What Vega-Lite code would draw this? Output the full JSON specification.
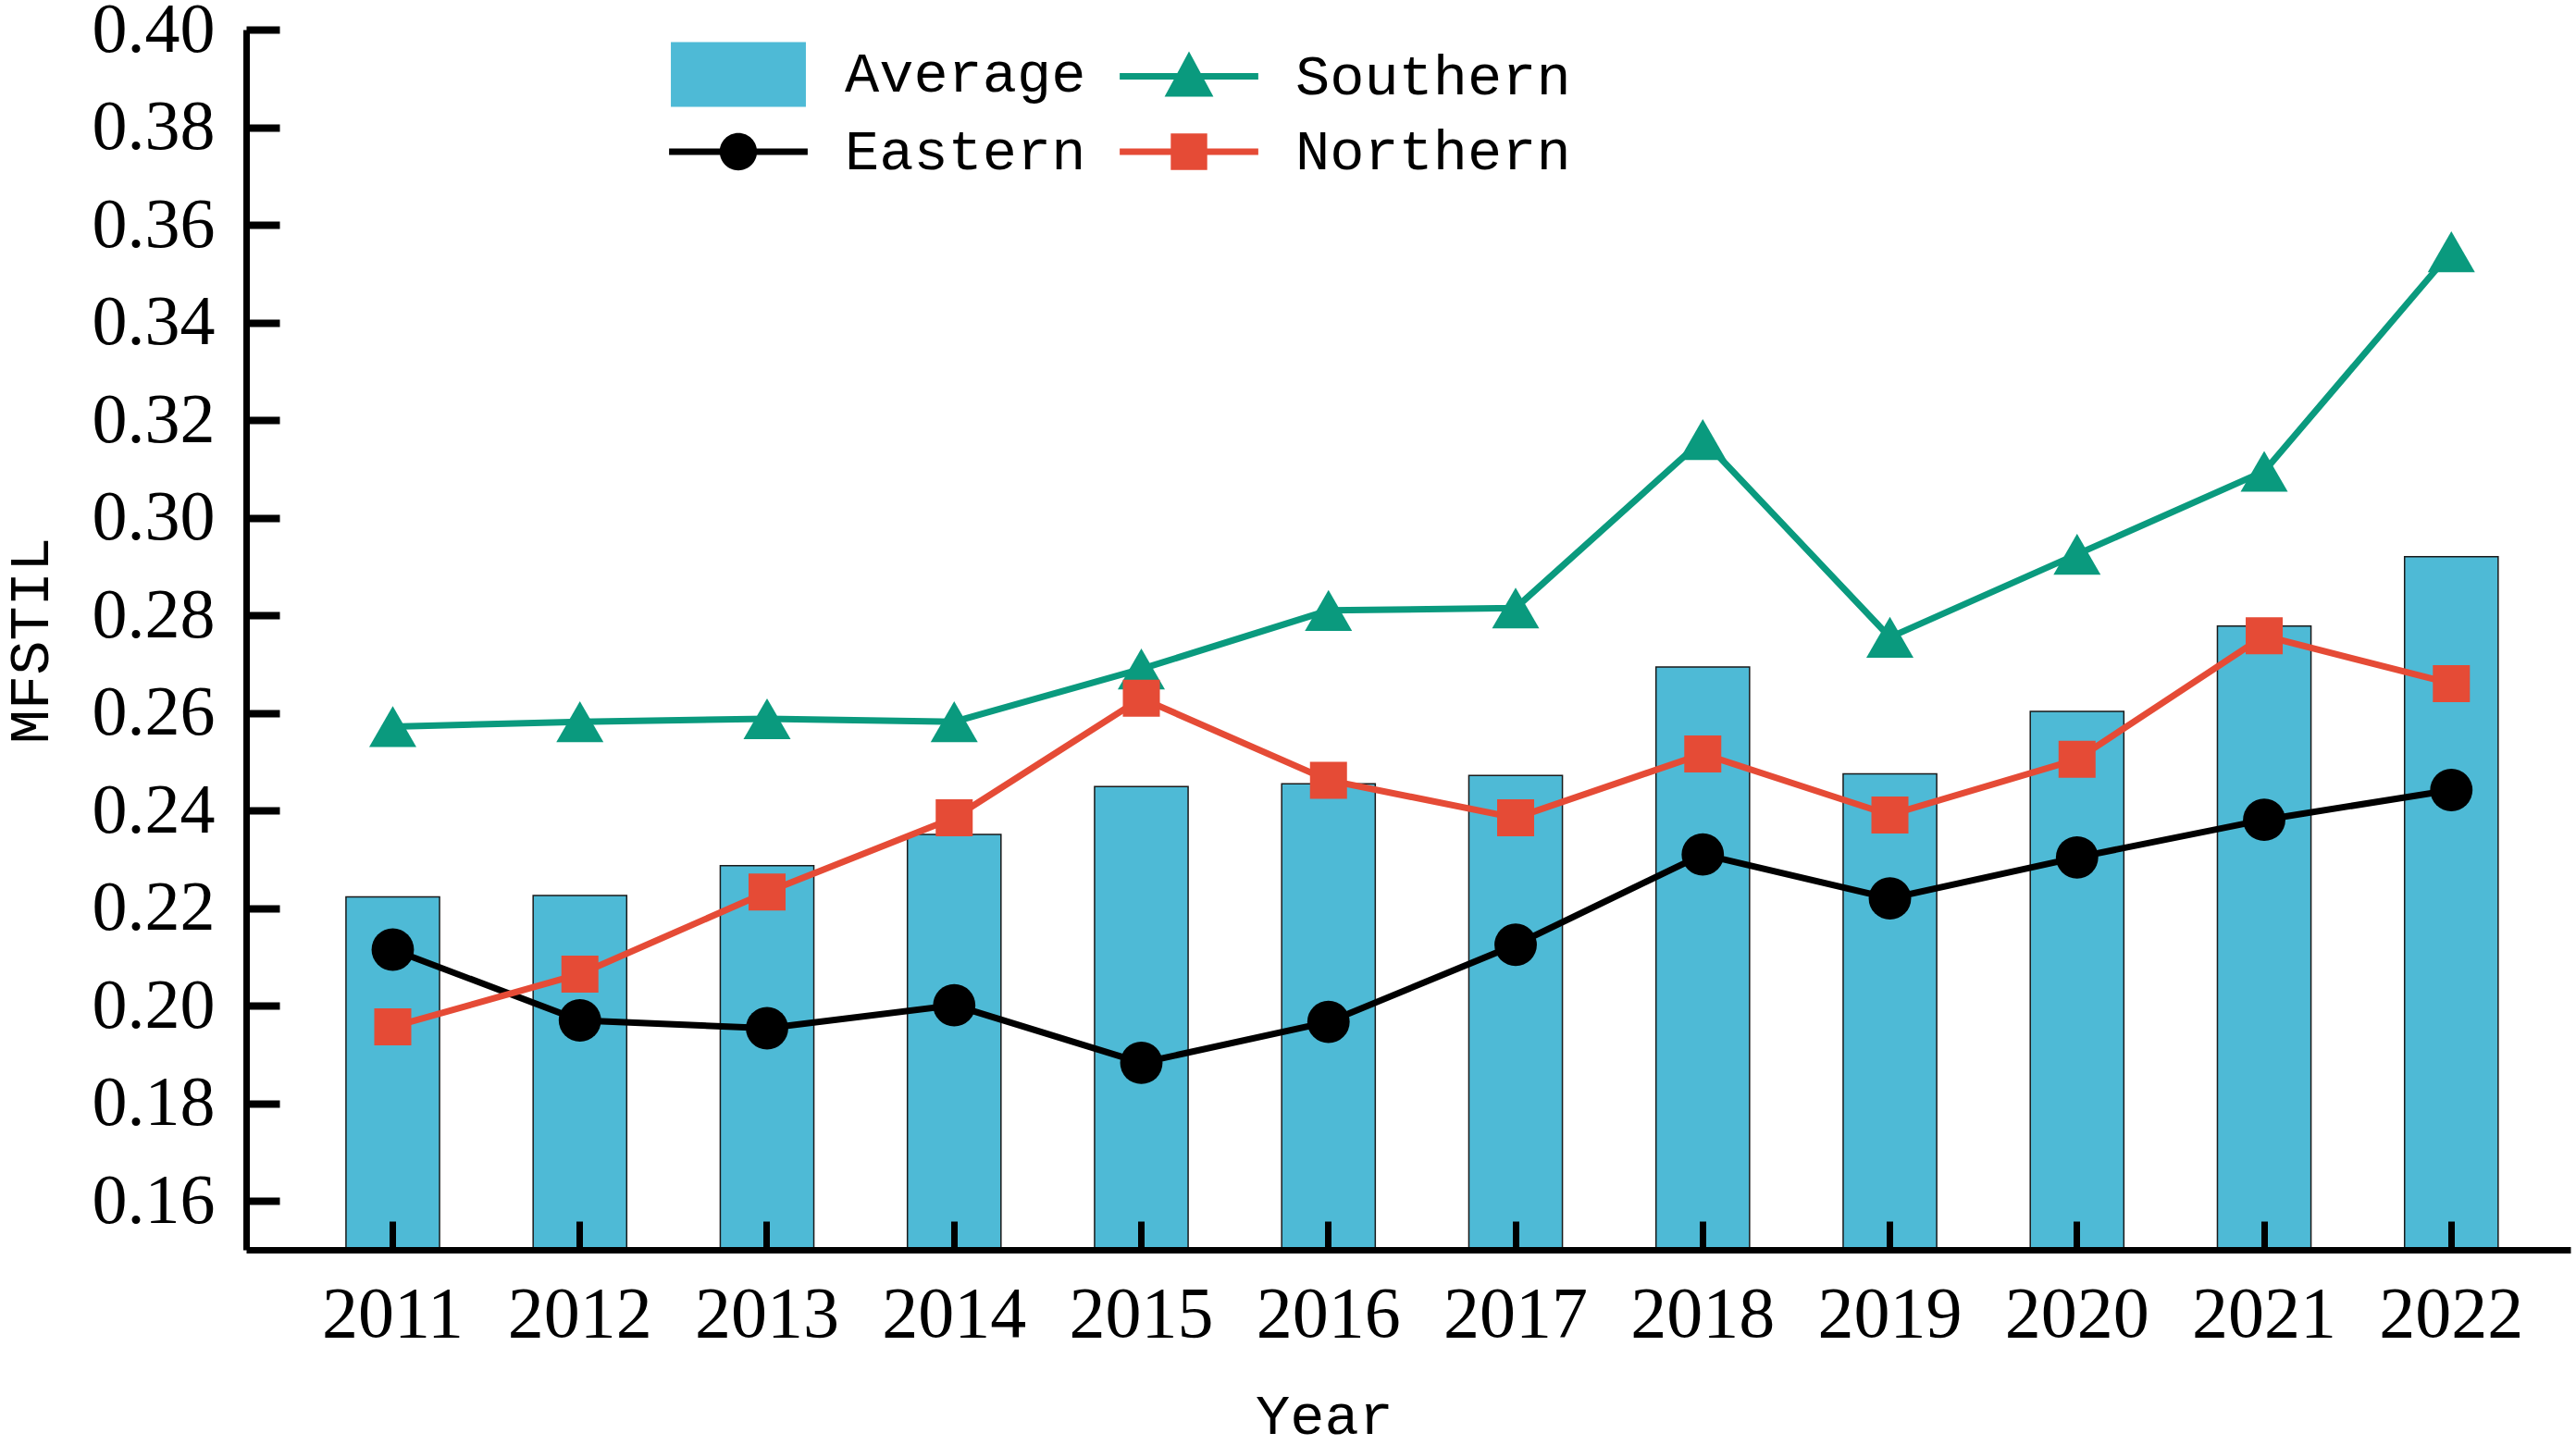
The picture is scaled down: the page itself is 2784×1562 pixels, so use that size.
{
  "$schema": "https://vega.github.io/schema/vega-lite/v6.json",
  "autosize": "none",
  "padding": {"left": 266, "top": 32, "right": 6, "bottom": 211},
  "width": 2512,
  "height": 1319,
  "background": "#ffffff",
  "config": {
    "view": {"stroke": null},
    "axis": {"domainColor": "#000000", "tickColor": "#000000", "labelColor": "#000000", "titleColor": "#000000", "gridColor": "#000000", "gridOpacity": 1}
  },
  "data": {
    "values": [
      {"year": "2011", "region": "Average", "value": 0.2223},
      {"year": "2012", "region": "Average", "value": 0.2226},
      {"year": "2013", "region": "Average", "value": 0.2287},
      {"year": "2014", "region": "Average", "value": 0.2351},
      {"year": "2015", "region": "Average", "value": 0.2449},
      {"year": "2016", "region": "Average", "value": 0.2455},
      {"year": "2017", "region": "Average", "value": 0.2472},
      {"year": "2018", "region": "Average", "value": 0.2694},
      {"year": "2019", "region": "Average", "value": 0.2475},
      {"year": "2020", "region": "Average", "value": 0.2603},
      {"year": "2021", "region": "Average", "value": 0.2778},
      {"year": "2022", "region": "Average", "value": 0.2920},
      {"year": "2011", "region": "Southern", "value": 0.2572},
      {"year": "2012", "region": "Southern", "value": 0.2582},
      {"year": "2013", "region": "Southern", "value": 0.2588},
      {"year": "2014", "region": "Southern", "value": 0.2582},
      {"year": "2015", "region": "Southern", "value": 0.2690},
      {"year": "2016", "region": "Southern", "value": 0.2810},
      {"year": "2017", "region": "Southern", "value": 0.2815},
      {"year": "2018", "region": "Southern", "value": 0.3160},
      {"year": "2019", "region": "Southern", "value": 0.2755},
      {"year": "2020", "region": "Southern", "value": 0.2925},
      {"year": "2021", "region": "Southern", "value": 0.3095},
      {"year": "2022", "region": "Southern", "value": 0.3545},
      {"year": "2011", "region": "Eastern", "value": 0.2115},
      {"year": "2012", "region": "Eastern", "value": 0.1970},
      {"year": "2013", "region": "Eastern", "value": 0.1954},
      {"year": "2014", "region": "Eastern", "value": 0.2001},
      {"year": "2015", "region": "Eastern", "value": 0.1883},
      {"year": "2016", "region": "Eastern", "value": 0.1967},
      {"year": "2017", "region": "Eastern", "value": 0.2125},
      {"year": "2018", "region": "Eastern", "value": 0.2310},
      {"year": "2019", "region": "Eastern", "value": 0.2220},
      {"year": "2020", "region": "Eastern", "value": 0.2304},
      {"year": "2021", "region": "Eastern", "value": 0.2381},
      {"year": "2022", "region": "Eastern", "value": 0.2442},
      {"year": "2011", "region": "Northern", "value": 0.1957},
      {"year": "2012", "region": "Northern", "value": 0.2065},
      {"year": "2013", "region": "Northern", "value": 0.2233},
      {"year": "2014", "region": "Northern", "value": 0.2385},
      {"year": "2015", "region": "Northern", "value": 0.2630},
      {"year": "2016", "region": "Northern", "value": 0.2462},
      {"year": "2017", "region": "Northern", "value": 0.2385},
      {"year": "2018", "region": "Northern", "value": 0.2516},
      {"year": "2019", "region": "Northern", "value": 0.2391},
      {"year": "2020", "region": "Northern", "value": 0.2505},
      {"year": "2021", "region": "Northern", "value": 0.2758},
      {"year": "2022", "region": "Northern", "value": 0.2660}
    ]
  },
  "encoding": {
    "x": {
      "field": "year",
      "type": "nominal",
      "scale": {"paddingInner": 0.5, "paddingOuter": 0.46, "align": 0.58},
      "axis": {
        "orient": "bottom",
        "title": "Year",
        "titleFont": "Liberation Mono",
        "titleFontSize": 62,
        "titleFontWeight": "normal",
        "titleX": 1165,
        "titleY": 179,
        "titleAlign": "center",
        "titleBaseline": "middle",
        "labelAngle": 0,
        "labelFont": "Liberation Serif",
        "labelFontSize": 78,
        "labelBaseline": "middle",
        "labelPadding": 70,
        "ticks": false,
        "grid": true,
        "gridWidth": 7,
        "gridDash": [0, 1288, 31, 5000],
        "domainWidth": 7,
        "zindex": 1
      }
    },
    "y": {
      "field": "value",
      "type": "quantitative",
      "scale": {"domain": [0.15, 0.40], "nice": false, "zero": false},
      "axis": {
        "orient": "left",
        "title": "MFSTIL",
        "titleFont": "Liberation Mono",
        "titleFontSize": 62,
        "titleFontWeight": "normal",
        "titleX": -234,
        "titleY": 660,
        "titleAngle": -90,
        "titleAlign": "center",
        "titleBaseline": "middle",
        "values": [0.16, 0.18, 0.20, 0.22, 0.24, 0.26, 0.28, 0.30, 0.32, 0.34, 0.36, 0.38, 0.40],
        "format": ".2f",
        "labelFont": "Liberation Serif",
        "labelFontSize": 76,
        "labelPadding": 34,
        "ticks": false,
        "grid": true,
        "gridWidth": 8,
        "gridDash": [36, 5000],
        "domainWidth": 7,
        "zindex": 1
      }
    },
    "color": {
      "field": "region",
      "type": "nominal",
      "scale": {
        "domain": ["Average", "Eastern", "Southern", "Northern"],
        "range": ["#4EBAD6", "#000000", "#0A9A7E", "#E54B36"]
      },
      "legend": {
        "title": null,
        "orient": "none",
        "legendX": 484,
        "legendY": 0,
        "columns": 2,
        "columnPadding": 36,
        "rowPadding": 0,
        "padding": 0,
        "labelFont": "Liberation Mono",
        "labelFontSize": 62,
        "labelLimit": 0,
        "labelColor": "#000000",
        "labelOffset": 67,
        "symbolSize": 9216,
        "symbolStrokeWidth": 0,
        "symbolOpacity": 1
      }
    }
  },
  "layer": [
    {
      "mark": {"type": "point", "filled": true, "size": 0, "strokeWidth": 0},
      "encoding": {
        "shape": {
          "field": "region",
          "type": "nominal",
          "scale": {
            "domain": ["Average", "Eastern", "Southern", "Northern"],
            "range": [
              "M-1.52,-0.73H1.52V0.73H-1.52Z",
              "M-1.56,-0.075H1.56V0.075H-1.56Z M-0.42,0A0.42,0.42 0 1,1 0.42,0A0.42,0.42 0 1,1 -0.42,0Z",
              "M-1.56,-0.075H1.56V0.075H-1.56Z M0,-0.56L0.55,0.46H-0.55Z",
              "M-1.56,-0.075H1.56V0.075H-1.56Z M-0.41,-0.41H0.41V0.41H-0.41Z"
            ]
          },
          "legend": {
            "title": null,
            "orient": "none",
            "legendX": 484,
            "legendY": 0,
            "columns": 2,
            "columnPadding": 36,
            "rowPadding": 0,
            "padding": 0,
            "labelFont": "Liberation Mono",
            "labelFontSize": 62,
            "labelLimit": 0,
            "labelColor": "#000000",
            "labelOffset": 67,
            "symbolSize": 9216,
            "symbolStrokeWidth": 0,
            "symbolOpacity": 1
          }
        }
      }
    },
    {
      "transform": [{"filter": "datum.region === 'Average'"}],
      "mark": {"type": "bar", "stroke": "#1a1a1a", "strokeWidth": 1.5, "clip": true}
    },
    {
      "transform": [{"filter": "datum.region !== 'Average'"}],
      "mark": {"type": "line", "strokeWidth": 7}
    },
    {
      "transform": [{"filter": "datum.region === 'Eastern'"}],
      "mark": {"type": "point", "shape": "circle", "filled": true, "opacity": 1, "size": 2100}
    },
    {
      "transform": [{"filter": "datum.region === 'Southern'"}],
      "mark": {"type": "point", "shape": "triangle-up", "filled": true, "opacity": 1, "size": 2600}
    },
    {
      "transform": [{"filter": "datum.region === 'Northern'"}],
      "mark": {"type": "point", "shape": "square", "filled": true, "opacity": 1, "size": 1600}
    }
  ]
}
